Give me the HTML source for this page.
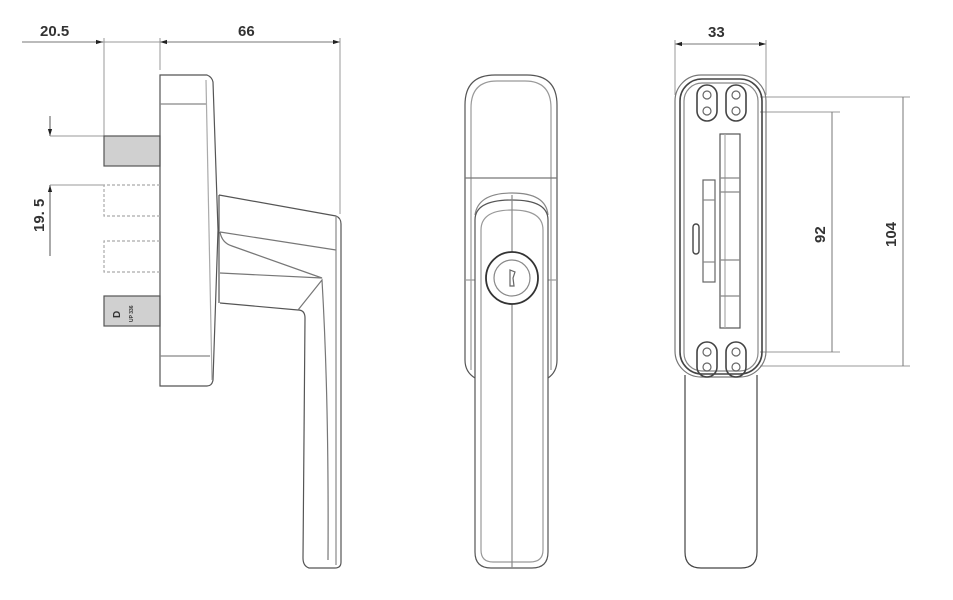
<!DOCTYPE html>
<html><head><meta charset="utf-8"><style>
html,body{margin:0;padding:0;background:#fff}
svg{display:block}
text{font-family:"Liberation Sans",sans-serif;font-weight:bold;fill:#333}
</style></head><body>
<svg width="953" height="600" viewBox="0 0 953 600" xmlns="http://www.w3.org/2000/svg">
<defs>
<marker id="a" viewBox="0 0 10 10" refX="10" refY="5" markerWidth="7" markerHeight="7" orient="auto-start-reverse"><path d="M0,2 L10,5 L0,8z" fill="#222"/></marker>
</defs>
<g fill="none" stroke="#999" stroke-width="1">
<line x1="22" y1="42" x2="103" y2="42" stroke="#777" marker-end="url(#a)"/>
<line x1="103" y1="42" x2="160" y2="42"/>
<line x1="160" y1="42" x2="340" y2="42" stroke="#777" marker-start="url(#a)" marker-end="url(#a)"/>
<line x1="104" y1="38" x2="104" y2="136"/>
<line x1="160" y1="38" x2="160" y2="70"/>
<line x1="340" y1="38" x2="340" y2="214"/>
<line x1="50" y1="116" x2="50" y2="136" stroke="#555" marker-end="url(#a)"/>
<line x1="50" y1="185" x2="50" y2="256" stroke="#555" marker-start="url(#a)"/>
<line x1="50" y1="136" x2="104" y2="136"/>
<line x1="50" y1="185" x2="104" y2="185"/>
<line x1="675" y1="44" x2="766" y2="44" stroke="#777" marker-start="url(#a)" marker-end="url(#a)"/>
<line x1="675" y1="40" x2="675" y2="95"/>
<line x1="766" y1="40" x2="766" y2="95"/>
<line x1="760" y1="112" x2="840" y2="112"/>
<line x1="760" y1="352" x2="840" y2="352"/>
<line x1="832" y1="112" x2="832" y2="352" stroke="#777"/>
<line x1="760" y1="97" x2="910" y2="97"/>
<line x1="760" y1="366" x2="910" y2="366"/>
<line x1="903" y1="97" x2="903" y2="366" stroke="#777"/>
</g>
<text x="40" y="36" font-size="15">20.5</text>
<text x="238" y="36" font-size="15">66</text>
<text x="708" y="37" font-size="15">33</text>
<text transform="translate(44,232) rotate(-90)" font-size="15">19. 5</text>
<text transform="translate(825,243) rotate(-90)" font-size="15">92</text>
<text transform="translate(896,247) rotate(-90)" font-size="15">104</text>

<g fill="none" stroke="#555" stroke-width="1.2">
<rect x="104" y="136" width="56" height="30" fill="#d0d0d0"/>
<rect x="104" y="296" width="56" height="30" fill="#d0d0d0"/>
<path d="M160,75 L207,75 Q212,77 213,82 L218,230 L213,380 Q212,386 207,386 L160,386 Z"/>
<line x1="160" y1="104" x2="207" y2="104" stroke="#888"/>
<line x1="160" y1="356" x2="210" y2="356" stroke="#888"/>
<line x1="206" y1="80" x2="212" y2="380" stroke="#aaa"/>
<path d="M219,195 L336,216 Q341,218 341,224 L341,562 Q341,568 335,568 L309,568 Q303,566 303,558 L305,318 Q305,310 298,310 L220,303"/>
<path d="M220,232 L336,250" stroke="#777"/>
<path d="M220,232 Q222,243 232,246 L322,278 L220,273" stroke="#777"/>
<path d="M298,310 L322,280 Q329,400 328,560" stroke="#777"/>
<line x1="336" y1="216" x2="336" y2="565" stroke="#888"/>
<line x1="219" y1="195" x2="219" y2="303"/>
</g>
<g fill="none" stroke="#aaa" stroke-width="1.2" stroke-dasharray="3,2">
<path d="M160,185 L104,185 L104,216 L160,216"/>
<path d="M160,241 L104,241 L104,272 L160,272"/>
</g>
<text transform="translate(120,318) rotate(-90)" font-size="10" font-weight="normal">D</text>
<text transform="translate(133,322) rotate(-90)" font-size="5" font-weight="normal">UP 336</text>

<g fill="none" stroke="#555" stroke-width="1.2">
<path d="M465,360 L465,105 Q465,75 495,75 L527,75 Q557,75 557,105 L557,360 Q557,372 548,378"/>
<path d="M465,360 Q465,372 475,378"/>
<path d="M471,370 L471,108 Q471,81 497,81 L525,81 Q551,81 551,108 L551,370" stroke="#999"/>
<line x1="465" y1="178" x2="557" y2="178" stroke="#777"/>
<line x1="465" y1="280" x2="475" y2="280" stroke="#999"/>
<line x1="548" y1="280" x2="557" y2="280" stroke="#999"/>
<path d="M475,215 Q478,193 512,193 Q546,193 548,215" stroke="#888"/>
<path d="M475,220 Q475,200 512,200 Q548,200 548,220 L548,552 Q548,568 532,568 L491,568 Q475,568 475,552 Z"/>
<path d="M481,230 Q481,210 512,210 Q543,210 543,230 L543,550 Q543,562 530,562 L493,562 Q481,562 481,550 Z" stroke="#999"/>
<line x1="512" y1="195" x2="512" y2="568" stroke="#888"/>
<circle cx="512" cy="278" r="26" stroke="#333" stroke-width="1.8" fill="#fff"/>
<circle cx="512" cy="278" r="18" stroke="#888"/>
<path d="M510,270 L510,286 L514,286 L513,278 L515,272 Z" stroke="#666"/>
</g>

<g fill="none" stroke="#444" stroke-width="1.2">
<path d="M685,375 L685,552 Q685,568 701,568 L741,568 Q757,568 757,552 L757,375"/>
<rect x="675" y="75" width="91" height="302" rx="26" stroke="#777"/>
<rect x="680" y="79" width="82" height="295" rx="22" stroke-width="1.6"/>
<rect x="684" y="83" width="74" height="288" rx="18" stroke="#888"/>
<g stroke-width="1.6">
<rect x="697" y="85" width="20" height="36" rx="10"/>
<rect x="726" y="85" width="20" height="36" rx="10"/>
<rect x="697" y="342" width="20" height="35" rx="10"/>
<rect x="726" y="342" width="20" height="35" rx="10"/>
</g>
<g stroke-width="1.2" stroke="#666">
<circle cx="707" cy="95" r="4"/><circle cx="707" cy="111" r="4"/>
<circle cx="736" cy="95" r="4"/><circle cx="736" cy="111" r="4"/>
<circle cx="707" cy="352" r="4"/><circle cx="707" cy="367" r="4"/>
<circle cx="736" cy="352" r="4"/><circle cx="736" cy="367" r="4"/>
</g>
<rect x="720" y="134" width="20" height="194" stroke="#555"/>
<line x1="725" y1="134" x2="725" y2="328" stroke="#aaa"/>
<rect x="703" y="180" width="12" height="102" stroke="#666"/>
<line x1="703" y1="200" x2="715" y2="200" stroke="#888"/>
<line x1="703" y1="262" x2="715" y2="262" stroke="#888"/>
<line x1="720" y1="178" x2="740" y2="178" stroke="#888"/>
<line x1="720" y1="192" x2="740" y2="192" stroke="#888"/>
<line x1="720" y1="260" x2="740" y2="260" stroke="#888"/>
<line x1="720" y1="296" x2="740" y2="296" stroke="#888"/>
<rect x="693" y="224" width="6" height="30" rx="3" stroke-width="1.4"/>
</g>
</svg>
</body></html>
